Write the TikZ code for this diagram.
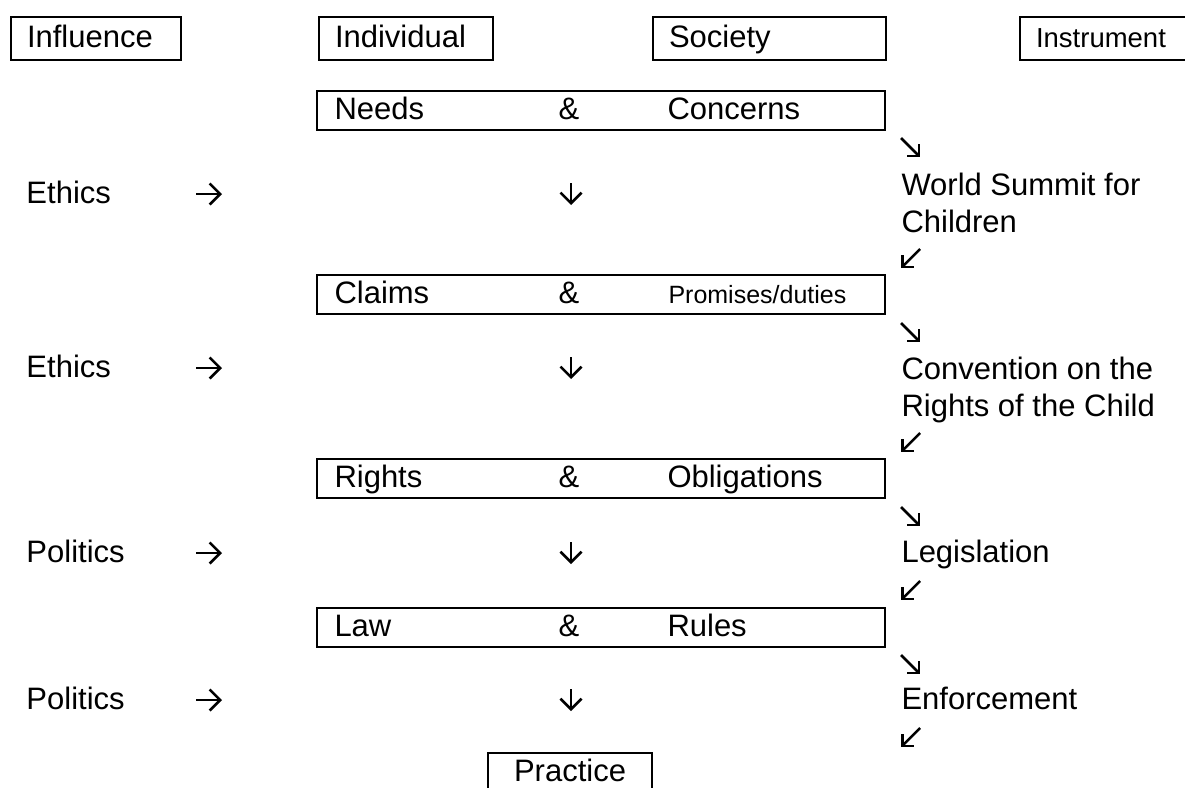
\documentclass[tikz,border=0pt]{standalone}
\usepackage{fontspec}
\setmainfont{Liberation Sans}
\usetikzlibrary{arrows.meta}

\tikzset{
  every node/.style={font=\fontsize{12.4}{14.6}\selectfont, inner sep=0pt},
  cell/.style={anchor=west, text height=.72em, text depth=0pt},
  headbox/.style={draw, line width=.8pt, anchor=west, align=left, inner xsep=6.4pt,
    minimum height=17.2pt, text height=.72em, text depth=0pt},
  rowbox/.style={draw, line width=.8pt, minimum width=227.2pt, minimum height=15.6pt},
  glyph/.style={line width=1pt, -{Straight Barb[angle=90:6pt]}},
  slant/.style={line width=1pt, -{Straight Barb[angle=90:4.6pt]}}
}

\begin{document}
\begin{tikzpicture}[x=0.4pt,y=-0.4pt]
\useasboundingbox (0,0) rectangle (1185,787);
\clip (0,0) rectangle (1185,787);

% column heads
\node[headbox, text width=55.2pt] (influence) at (10,38) {Influence};
\node[headbox, text width=56.8pt] (individual) at (318,38) {Individual};
\node[headbox, text width=80.4pt] (society) at (652,38) {Society};
\node[headbox, text width=63.2pt, font=\fontsize{11}{13}\selectfont] (instrument) at (1019,38) {Instrument};

% rows
\node[rowbox] (needsrow) at (601,110) {};
\node[cell] (needs) at (334,110) {Needs};
\node[cell] (and1) at (558,110) {\&};
\node[cell] (concerns) at (667,110) {Concerns};

\node[rowbox] (claimsrow) at (601,294) {};
\node[cell] (claims) at (334,294) {Claims};
\node[cell] (and2) at (558,294) {\&};
\node[cell, font=\fontsize{10}{12}\selectfont] (promises) at (668,294) {Promises/duties};

\node[rowbox] (rightsrow) at (601,478) {};
\node[cell] (rights) at (334,478) {Rights};
\node[cell] (and3) at (558,478) {\&};
\node[cell] (obligations) at (667,478) {Obligations};

\node[rowbox] (lawrow) at (601,627) {};
\node[cell] (law) at (334,627) {Law};
\node[cell] (and4) at (558,627) {\&};
\node[cell] (rules) at (667,627) {Rules};

\node[rowbox, minimum width=65.6pt, text height=.72em, text depth=0pt] (practice) at (570,772.5) {Practice};

% influences
\node[cell] (ethics1) at (26,194) {Ethics};
\node[cell] (ethics2) at (26,368) {Ethics};
\node[cell] (politics1) at (26,553) {Politics};
\node[cell] (politics2) at (26,700) {Politics};
\draw[glyph] (196,194) -- (222,194);
\draw[glyph] (196,368) -- (222,368);
\draw[glyph] (196,553) -- (222,553);
\draw[glyph] (196,700) -- (222,700);

% steps down
\draw[glyph] (571,183) -- (571,205);
\draw[glyph] (571,357) -- (571,379);
\draw[glyph] (571,542) -- (571,564);
\draw[glyph] (571,689) -- (571,711);

% instruments
\node[anchor=base west, align=left] (summit) at (901,232) {World Summit for\\Children};
\node[anchor=base west, align=left] (convention) at (901,416) {Convention on the\\Rights of the Child};
\node[cell] (legislation) at (901,553) {Legislation};
\node[cell] (enforcement) at (901,700) {Enforcement};

\draw[slant] (901,138) -- (920,157);
\draw[slant] (920,249) -- (901,268);
\draw[slant] (901,323) -- (920,342);
\draw[slant] (920,433) -- (901,452);
\draw[slant] (901,507) -- (920,526);
\draw[slant] (920,581) -- (901,600);
\draw[slant] (901,655) -- (920,674);
\draw[slant] (920,728) -- (901,747);

\end{tikzpicture}
\end{document}
